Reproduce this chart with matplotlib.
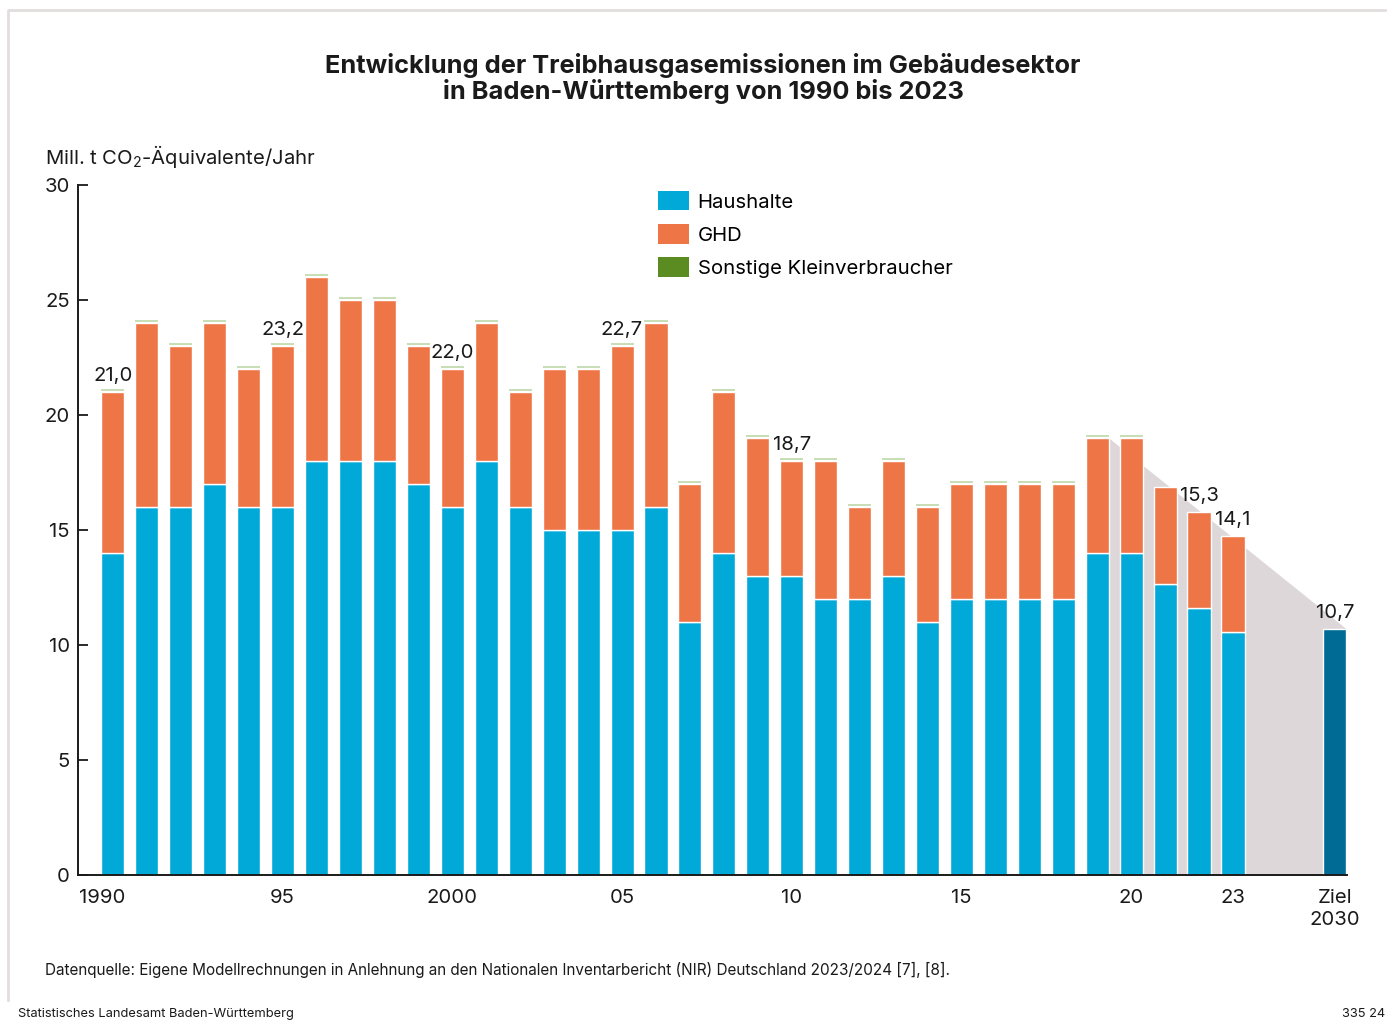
import numpy as np
import matplotlib
matplotlib.use("Agg")
import matplotlib.pyplot as plt
import matplotlib.transforms as mtransforms
from matplotlib.patches import Patch, Polygon

plt.rcParams['font.family'] = ['Inter', 'DejaVu Sans']
plt.rcParams['mathtext.fontset'] = 'custom'
plt.rcParams['mathtext.rm'] = 'Inter'

# data (Mill. t CO2-Aequivalente)
years = list(range(1990, 2024))
haushalte = [14, 16, 16, 17, 16, 16, 18, 18, 18, 17,
             16, 18, 16, 15, 15, 15, 16, 11, 14, 13,
             13, 12, 12, 13, 11, 12, 12, 12, 12, 14,
             14, 12.65, 11.6, 10.55]
gesamt = [21, 24, 23, 24, 22, 23, 26, 25, 25, 23,
          22, 24, 21, 22, 22, 23, 24, 17, 21, 19,
          18, 18, 16, 18, 16, 17, 17, 17, 17, 19,
          19, 16.85, 15.8, 14.75]
ghd = [g - h for g, h in zip(gesamt, haushalte)]
sonstige = [0.09] * 31 + [0, 0, 0]
ziel_2030 = 10.7

value_labels = {1990: "21,0", 1995: "23,2", 2000: "22,0", 2005: "22,7",
                2010: "18,7", 2022: "15,3", 2023: "14,1"}
tick_years = [1990, 1995, 2000, 2005, 2010, 2015, 2020, 2023]
tick_texts = ["1990", "95", "2000", "05", "10", "15", "20", "23"]

c_blue = '#00a9d8'
c_orange = '#ee7646'
c_green = '#5b8c22'
c_green_light = '#c9ddb6'
c_grey = '#ddd7d9'
c_dark = '#006b94'
c_text = '#1a1a1a'
fs = 14.6

fig = plt.figure(figsize=(13.87, 10.24), dpi=100)
ax = fig.add_axes([78 / 1387, 1 - 875 / 1024, (1347 - 78) / 1387, (875 - 185) / 1024])

x = np.arange(len(years))
x_ziel = len(years) + 2
w = 0.68

# grey trend area towards the target
poly = Polygon([(29 + w / 2, 0), (29 + w / 2, gesamt[29]),
                (x_ziel + w / 2, ziel_2030), (x_ziel + w / 2, 0)],
               closed=True, facecolor=c_grey, edgecolor='none', zorder=1)
ax.add_patch(poly)

ax.bar(x, haushalte, w, color=c_blue, edgecolor='white', linewidth=1, zorder=2)
ax.bar(x, ghd, w, bottom=haushalte, color=c_orange, edgecolor='white', linewidth=1, zorder=2)
ax.bar(x, sonstige, w, bottom=np.array(gesamt) + 0.05, color=c_green_light,
       edgecolor='none', zorder=2)
ax.bar([x_ziel], [ziel_2030], w, color=c_dark, edgecolor='white', linewidth=1, zorder=2)

for yr, lab in value_labels.items():
    i = years.index(yr)
    ax.annotate(lab, (i, gesamt[i]), xytext=(0, 5), textcoords='offset points',
                ha='center', va='bottom', fontsize=fs, color=c_text)
ax.annotate("10,7", (x_ziel, ziel_2030), xytext=(0, 5), textcoords='offset points',
            ha='center', va='bottom', fontsize=fs, color=c_text)

ax.set_xlim(-1.03, x_ziel + w / 2 + 0.02)
ax.set_ylim(0, 30)
ax.set_yticks([0, 5, 10, 15, 20, 25, 30])
ax.tick_params(axis='y', direction='in', length=7, width=1.3, pad=6,
               labelsize=fs, colors=c_text)
ticks = [years.index(y) for y in tick_years] + [x_ziel]
ax.set_xticks(ticks)
ax.set_xticklabels(tick_texts + ["Ziel\n2030"])
ax.tick_params(axis='x', length=0, pad=10, labelsize=fs, colors=c_text)
for lbl in ax.get_xticklabels():
    lbl.set_linespacing(1.3)
first = ax.get_xticklabels()[0]
first.set_transform(first.get_transform() +
                    mtransforms.ScaledTranslation(-11 / 100, 0, fig.dpi_scale_trans))
for s in ['top', 'right']:
    ax.spines[s].set_visible(False)
for s in ['left', 'bottom']:
    ax.spines[s].set_linewidth(1.4)
    ax.spines[s].set_color(c_text)
    ax.spines[s].set_zorder(3)

handles = [Patch(facecolor=c_blue), Patch(facecolor=c_orange), Patch(facecolor=c_green)]
fig.legend(handles, ["Haushalte", "GHD", "Sonstige Kleinverbraucher"],
           loc='upper left', bbox_to_anchor=(658 / 1387, 1 - 191 / 1024),
           frameon=False, fontsize=fs, handlelength=1.55, handleheight=1.1,
           handletextpad=0.4, labelspacing=0.62, borderpad=0, borderaxespad=0)

fig.text(703 / 1387, 1 - 78.5 / 1024,
         "Entwicklung der Treibhausgasemissionen im Gebäudesektor\n"
         "in Baden-Württemberg von 1990 bis 2023",
         ha='center', va='center', fontsize=18.3, fontweight='bold',
         linespacing=1.05, color=c_text)
fig.text(45 / 1387, 1 - 157 / 1024, r"Mill. t CO$_2$-Äquivalente/Jahr",
         ha='left', va='center', fontsize=fs, color=c_text)
fig.text(45 / 1387, 1 - 970 / 1024,
         "Datenquelle: Eigene Modellrechnungen in Anlehnung an den Nationalen "
         "Inventarbericht (NIR) Deutschland 2023/2024 [7], [8].",
         ha='left', va='center', fontsize=11.0, color=c_text)
fig.text(18 / 1387, 1 - 1014 / 1024, "Statistisches Landesamt Baden-Württemberg",
         ha='left', va='center', fontsize=9.25, color=c_text)
fig.text(1385 / 1387, 1 - 1014 / 1024, "335 24",
         ha='right', va='center', fontsize=9.25, color=c_text)

# light frame around the chart
fig.add_artist(plt.Line2D([8 / 1387, 8 / 1387, 1385 / 1387],
                          [1 - 1000 / 1024, 1 - 10 / 1024, 1 - 10 / 1024],
                          transform=fig.transFigure, color='#e2dede', linewidth=2))

fig.savefig("out.png", dpi=100)
